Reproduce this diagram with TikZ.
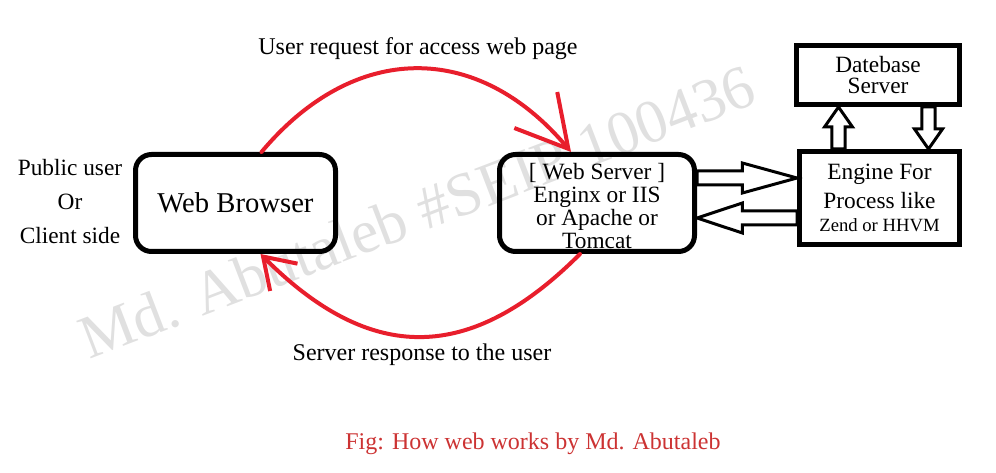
\documentclass[tikz,border=0pt]{standalone}
\usepackage{fontspec}
\setmainfont{Liberation Serif}
\usetikzlibrary{arrows.meta,calc}
\definecolor{arrowred}{RGB}{232,30,44}
\definecolor{figred}{RGB}{204,51,51}

\begin{document}
\begin{tikzpicture}[
    x=0.75pt,
    y=0.75pt,
    txt/.style={font=\fontsize{17.5}{21}\selectfont, inner sep=0pt},
    roundbox/.style={draw, line width=3.75pt, rounded corners=12pt, minimum width=150pt, minimum height=72.75pt, align=center, inner sep=0pt},
    squarebox/.style={draw, line width=3.75pt, align=center, inner sep=0pt},
    flow/.style={draw=arrowred, line width=3pt, line cap=round},
    stamp/.style={font=\fontsize{46}{50}\selectfont, text=black!12, rotate=21, inner sep=0pt},
    hollow/.style n args={3}{draw, fill=white, line width=2.25pt, to path={
        ($(\tikztostart)!#1!90:(\tikztotarget)$)
        -- ($(\tikztotarget)!#3!(\tikztostart)!#1!-90:(\tikztostart)$)
        -- ($(\tikztotarget)!#3!(\tikztostart)!#2!-90:(\tikztostart)$)
        -- (\tikztotarget)
        -- ($(\tikztotarget)!#3!(\tikztostart)!#2!90:(\tikztostart)$)
        -- ($(\tikztotarget)!#3!(\tikztostart)!#1!90:(\tikztostart)$)
        -- ($(\tikztostart)!#1!-90:(\tikztotarget)$) -- cycle}}
]
  \useasboundingbox (0,0) rectangle (996,-473);
  % Watermark
  \node[stamp] (mark) at (417,-212) {Md. Abutaleb \#SEIP 100436};

  % Boxes
  \node[roundbox, font=\fontsize{21.5}{24}\selectfont] (browser) at (235.5,-203) {Web Browser};
  \node[roundbox, minimum width=146.25pt, font=\fontsize{17.5}{17.25}\selectfont] (server) at (597,-203)
    {\rule{0pt}{16.5pt}[ Web Server ]\\Enginx or IIS\\or Apache or\\Tomcat};
  \node[squarebox, minimum width=122.25pt, minimum height=44.25pt, font=\fontsize{17.5}{15.75}\selectfont] (db) at (878,-75)
    {Datebase\\Server};
  \node[squarebox, minimum width=120pt, minimum height=69.75pt, font=\fontsize{17.5}{21.75}\selectfont] (engine) at (879.5,-198)
    {Engine For\\Process like\\[-4pt]{\fontsize{14}{19.5}\selectfont Zend or HHVM}};

  % Texts
  \node[txt, align=center, font=\fontsize{17.5}{25.5}\selectfont] (client) at (70,-202) {Public user\\Or\\Client side};
  \node[txt, font=\fontsize{18}{21}\selectfont] (reqlabel) at (418,-49) {User request for access web page};
  \node[txt, font=\fontsize{18}{21}\selectfont] (resplabel) at (422,-355) {Server response to the user};
  \node[txt, font=\fontsize{18}{21}\selectfont, text=figred] (caption) at (533,-444) {Fig: How web works by Md. Abutaleb};

  % Request and response
  \draw[flow, -{Straight Barb[length=38pt, width=42pt]}] ($(browser.north)+(26,0)$)
    to[out=50, in=130, looseness=1.2] ($(server.north)+(-26,0)$);
  \draw[flow, -{Straight Barb[length=22pt, width=29pt]}] ($(server.south)+(-17,0)$)
    to[out=-135, in=-45, looseness=1.25] ($(browser.south)+(25,0)$);

  % Hollow arrows to the engine and the database
  \coordinate (fwd) at ([yshift=18.75pt]server.east);
  \coordinate (back) at ([yshift=-11.25pt]server.east);
  \coordinate (up) at ([xshift=-30.75pt]engine.north);
  \coordinate (down) at ([xshift=36.75pt]engine.north);
  \draw[hollow={5.25pt}{11.25pt}{41pt}] (fwd) to (fwd -| engine.west);
  \draw[hollow={5.25pt}{11.25pt}{34pt}] (back -| engine.west) to (back);
  \draw[hollow={4.9pt}{10.5pt}{15pt}] (up) to (up |- db.south);
  \draw[hollow={4.9pt}{10.5pt}{15pt}] (down |- db.south) to (down);
\end{tikzpicture}
\end{document}
